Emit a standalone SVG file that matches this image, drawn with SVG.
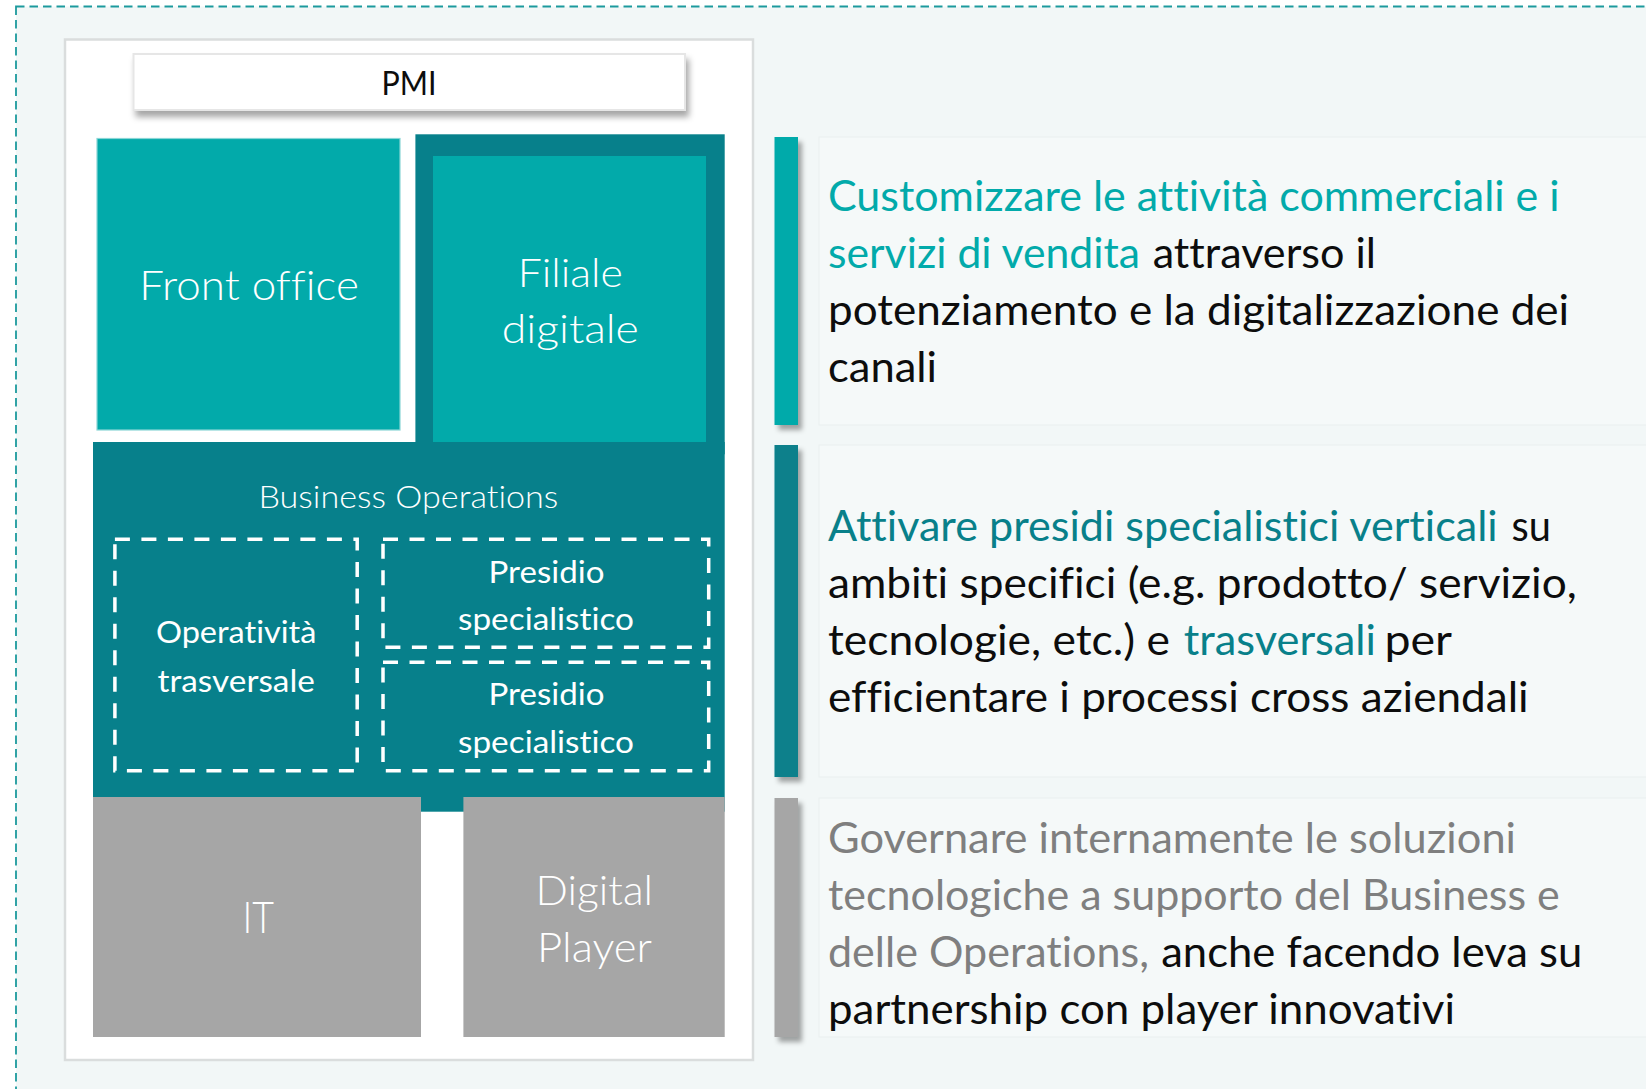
<svg xmlns="http://www.w3.org/2000/svg" width="1646" height="1089" viewBox="0 0 1646 1089">
<defs>
<filter id="shPmi" x="-10%" y="-30%" width="120%" height="170%"><feDropShadow dx="3" dy="6" stdDeviation="3" flood-color="#000" flood-opacity="0.35"/></filter>
<filter id="shBar" x="-100%" y="-5%" width="300%" height="115%"><feDropShadow dx="4" dy="5" stdDeviation="2.5" flood-color="#000" flood-opacity="0.35"/></filter>
<style>
text{font-variant-ligatures:none}
.lbl{font-family:Lato,"Open Sans","Liberation Sans",sans-serif;font-weight:300;fill:#FFFFFF;text-anchor:middle}
.txt{font-family:Lato,"Open Sans","Liberation Sans",sans-serif;font-size:42px}
.k{fill:#0D0D0D}.t1{fill:#02AAAA}.t2{fill:#08808A}.g{fill:#7F7F7F}
.dash{fill:none;stroke:#FFFFFF;stroke-width:3.5;stroke-dasharray:15 11.5}
.panel{fill:#F5F9F9;stroke:#E9EFEF;stroke-width:1}
</style>
</defs>
<rect x="0" y="0" width="1646" height="1089" fill="#FFFFFF"/>
<rect x="16" y="6.5" width="1700" height="1200" fill="#F2F7F7" stroke="#1C9A9D" stroke-width="1.8" stroke-dasharray="8.5 5"/>

<g id="panel-left">
<rect x="65" y="39.5" width="688" height="1020.5" fill="#FFFFFF" stroke="#DADDDD" stroke-width="2.5"/>
</g>

<g id="pmi">
<rect x="133.5" y="54" width="551.5" height="56" fill="#FFFFFF" stroke="#E6E6E6" stroke-width="2" filter="url(#shPmi)"/>
<text class="lbl" x="409" y="95" font-size="32.5" style="fill:#0D0D0D;font-weight:400" textLength="55" lengthAdjust="spacingAndGlyphs">PMI</text>
</g>

<g id="front-office">
<rect x="97" y="138.5" width="303" height="291.5" fill="#02AAAA" stroke="#8AD6D6" stroke-width="1.2"/>
<text class="lbl" x="249" y="300" font-size="41" textLength="219.7" lengthAdjust="spacingAndGlyphs">Front office</text>
</g>

<g id="business-operations">
<rect x="415.4" y="134.3" width="309.3" height="320" fill="#07808B"/>
<rect x="93" y="442" width="631.7" height="369.7" fill="#07808B"/>
<text class="lbl" x="408.4" y="508" font-size="32" textLength="300" lengthAdjust="spacingAndGlyphs">Business Operations</text>
</g>

<g id="filiale-digitale">
<rect x="433" y="156" width="273" height="286" fill="#02AAAA"/>
<text class="lbl" x="570.3" y="286.7" font-size="40" textLength="105.2" lengthAdjust="spacingAndGlyphs">Filiale</text>
<text class="lbl" x="570.3" y="343.3" font-size="40" textLength="137.2" lengthAdjust="spacingAndGlyphs">digitale</text>
</g>

<g id="operativita-trasversale">
<rect class="dash" x="114.9" y="539.3" width="242.3" height="231.4"/>
<text class="lbl" x="236.2" y="643.3" font-size="30" style="font-weight:400" textLength="160.5" lengthAdjust="spacingAndGlyphs">Operatività</text>
<text class="lbl" x="236.2" y="691.7" font-size="30" style="font-weight:400" textLength="157.5" lengthAdjust="spacingAndGlyphs">trasversale</text>
</g>

<g id="presidio-1">
<rect class="dash" x="383" y="539.3" width="325.7" height="108"/>
<text class="lbl" x="546.5" y="582.7" font-size="31" style="font-weight:400" textLength="115.9" lengthAdjust="spacingAndGlyphs">Presidio</text>
<text class="lbl" x="546" y="630" font-size="31" style="font-weight:400" textLength="176" lengthAdjust="spacingAndGlyphs">specialistico</text>
</g>

<g id="presidio-2">
<rect class="dash" x="383" y="662.3" width="325.7" height="108.4"/>
<text class="lbl" x="546.5" y="705" font-size="31" style="font-weight:400" textLength="115.9" lengthAdjust="spacingAndGlyphs">Presidio</text>
<text class="lbl" x="546" y="752.7" font-size="31" style="font-weight:400" textLength="176" lengthAdjust="spacingAndGlyphs">specialistico</text>
</g>

<g id="it">
<rect x="93" y="797" width="328" height="240" fill="#A6A6A6"/>
<text class="lbl" x="258.2" y="932.7" font-size="43" textLength="31.5" lengthAdjust="spacingAndGlyphs">IT</text>
</g>

<g id="digital-player">
<rect x="463.4" y="797" width="261.3" height="240" fill="#A6A6A6"/>
<text class="lbl" x="594.3" y="905" font-size="42" textLength="117.4" lengthAdjust="spacingAndGlyphs">Digital</text>
<text class="lbl" x="594.5" y="961.7" font-size="42" textLength="115" lengthAdjust="spacingAndGlyphs">Player</text>
</g>

<g id="connectors"></g>

<g id="desc-1">
<rect class="panel" x="819" y="137" width="840" height="288"/>
<rect x="774.5" y="137" width="23.5" height="288" fill="#02AAAA" filter="url(#shBar)"/>
<text class="txt"><tspan class="t1" x="828" y="211" textLength="731.6" lengthAdjust="spacingAndGlyphs">Customizzare le attività commerciali e i</tspan></text>
<text class="txt"><tspan class="t1" x="828" y="268" textLength="312" lengthAdjust="spacingAndGlyphs">servizi di vendita</tspan><tspan class="k" x="1152.7" y="268" textLength="223.3" lengthAdjust="spacingAndGlyphs">attraverso il</tspan></text>
<text class="txt"><tspan class="k" x="828" y="325" textLength="741.2" lengthAdjust="spacingAndGlyphs">potenziamento e la digitalizzazione dei</tspan></text>
<text class="txt"><tspan class="k" x="828" y="382" textLength="109" lengthAdjust="spacingAndGlyphs">canali</tspan></text>
</g>

<g id="desc-2">
<rect class="panel" x="819" y="445" width="840" height="332"/>
<rect x="774.5" y="445" width="23.5" height="332" fill="#07808B" filter="url(#shBar)"/>
<text class="txt"><tspan class="t2" x="828" y="541" textLength="669.7" lengthAdjust="spacingAndGlyphs">Attivare presidi specialistici verticali</tspan><tspan class="k" x="1511.6" y="541" textLength="39.4" lengthAdjust="spacingAndGlyphs">su</tspan></text>
<text class="txt"><tspan class="k" x="828" y="598" textLength="748.8" lengthAdjust="spacingAndGlyphs">ambiti specifici (e.g. prodotto/ servizio,</tspan></text>
<text class="txt"><tspan class="k" x="828" y="655" textLength="341.9" lengthAdjust="spacingAndGlyphs">tecnologie, etc.) e</tspan><tspan class="t2" x="1183.8" y="655" textLength="192.2" lengthAdjust="spacingAndGlyphs">trasversali</tspan><tspan class="k" x="1384.4" y="655" textLength="67.6" lengthAdjust="spacingAndGlyphs">per</tspan></text>
<text class="txt"><tspan class="k" x="828" y="712" textLength="700.7" lengthAdjust="spacingAndGlyphs">efficientare i processi cross aziendali</tspan></text>
</g>

<g id="desc-3">
<rect class="panel" x="819" y="798" width="840" height="239"/>
<rect x="774.5" y="798" width="23.5" height="239" fill="#A6A6A6" filter="url(#shBar)"/>
<text class="txt"><tspan class="g" x="828" y="853" textLength="688" lengthAdjust="spacingAndGlyphs">Governare internamente le soluzioni</tspan></text>
<text class="txt"><tspan class="g" x="828" y="910" textLength="731.8" lengthAdjust="spacingAndGlyphs">tecnologiche a supporto del Business e</tspan></text>
<text class="txt"><tspan class="g" x="828" y="967" textLength="321" lengthAdjust="spacingAndGlyphs">delle Operations,</tspan><tspan class="k" x="1161.2" y="967" textLength="421" lengthAdjust="spacingAndGlyphs">anche facendo leva su</tspan></text>
<text class="txt"><tspan class="k" x="828" y="1024" textLength="627" lengthAdjust="spacingAndGlyphs">partnership con player innovativi</tspan></text>
</g>
</svg>
